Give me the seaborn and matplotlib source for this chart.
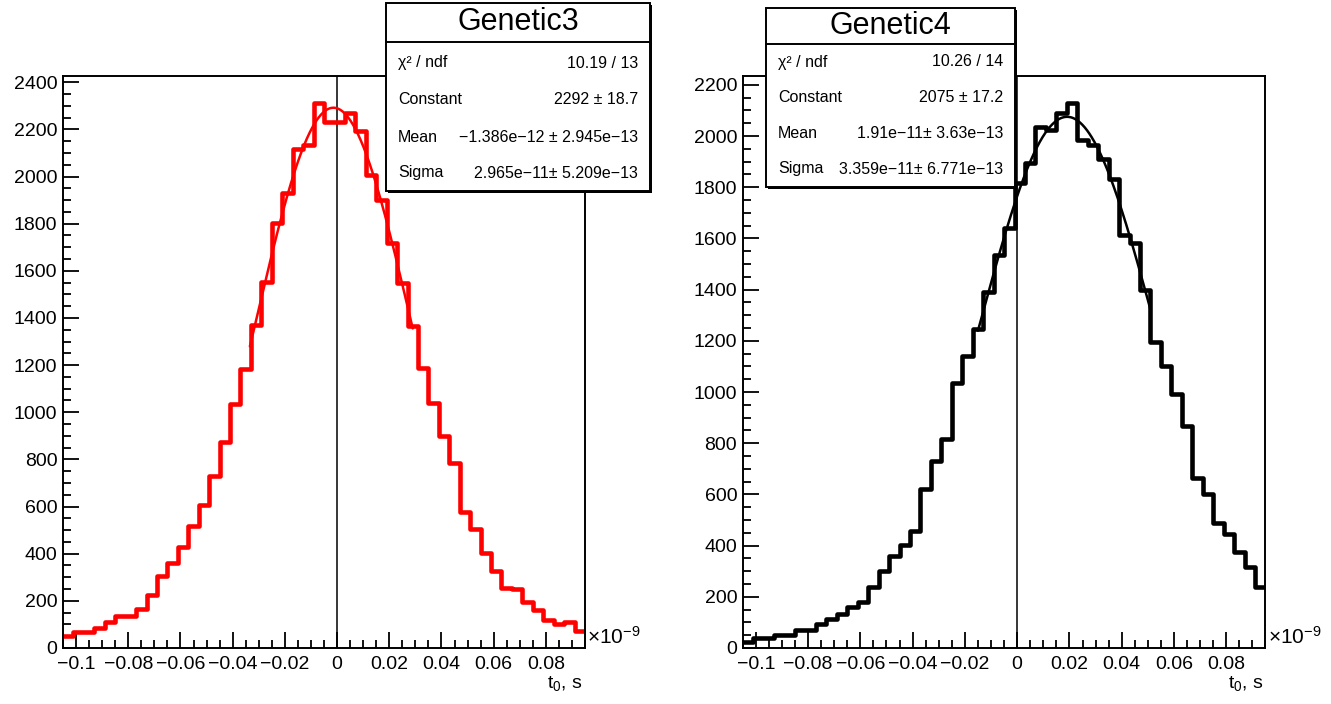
import numpy as np
import pandas as pd
import matplotlib
matplotlib.use("Agg")
import matplotlib.pyplot as plt
import seaborn as sns
from matplotlib.patches import Rectangle
from matplotlib.lines import Line2D
from matplotlib.ticker import MultipleLocator, FuncFormatter

# histogram binning, x in units of 1e-9 s
x_lo = -0.105
x_hi = 0.095
n_bins = 50

genetic3_counts = [51, 68, 68, 85, 110, 135, 135, 166, 225, 307,
                   361, 427, 516, 607, 730, 874, 1033, 1185, 1371, 1552,
                   1804, 1931, 2118, 2132, 2311, 2231, 2231, 2270, 2192, 2005,
                   1900, 1719, 1548, 1364, 1188, 1040, 899, 786, 578, 504,
                   402, 328, 253, 250, 194, 163, 117, 103, 110, 74]

genetic4_counts = [25, 40, 38, 51, 51, 71, 71, 94, 113, 133,
                   159, 178, 239, 302, 358, 403, 458, 623, 731, 818,
                   1034, 1140, 1247, 1390, 1537, 1641, 1815, 1894, 2035, 2025,
                   2089, 2128, 1985, 1966, 1910, 1832, 1615, 1582, 1400, 1195,
                   1100, 991, 867, 666, 601, 490, 445, 376, 315, 237]

# gaussian fit results (constant, mean [s], sigma [s]) and fit ranges
genetic3_fit = [2292, -1.386e-12, 2.965e-11]
genetic4_fit = [2075, 1.91e-11, 3.359e-11]
genetic3_range = [-0.0334, 0.0290]
genetic4_range = [-0.015, 0.051]

genetic3_stats = ["10.19 / 13", "2292 \u00b1 18.7",
                  "\u22121.386e\u221212 \u00b1 2.945e\u221213",
                  "2.965e\u221211\u00b1 5.209e\u221213"]
genetic4_stats = ["10.26 / 14", "2075 \u00b1 17.2",
                  "1.91e\u221211\u00b1 3.63e\u221213",
                  "3.359e\u221211\u00b1 6.771e\u221213"]
stat_names = ["\u03c7\u00b2 / ndf", "Constant", "Mean", "Sigma"]

sns.set_style("white")
plt.rcParams["font.family"] = ["Liberation Sans", "DejaVu Sans"]
plt.rcParams["text.color"] = "black"
plt.rcParams["mathtext.fontset"] = "custom"
plt.rcParams["mathtext.rm"] = "Liberation Sans"
plt.rcParams["mathtext.it"] = "Liberation Sans:italic"

W, H = 1331, 704
fig = plt.figure(figsize=(W / 100, H / 100), dpi=100)
fig.patch.set_facecolor("white")


def fx(px):
    return px / W


def fy(py):
    return 1 - py / H


def draw_panel(ax, counts, color, fit, frange):
    edges = np.linspace(x_lo, x_hi, n_bins + 1)
    centers = (edges[:-1] + edges[1:]) / 2
    df = pd.DataFrame({"t0": centers, "n": counts})
    sns.histplot(data=df, x="t0", weights="n", bins=n_bins,
                 binrange=(x_lo, x_hi), element="step",
                 fill=False, color=color, linewidth=3.3, ax=ax)
    c, m, s = fit[0], fit[1] * 1e9, fit[2] * 1e9
    xs = np.linspace(frange[0], frange[1], 300)
    ys = c * np.exp(-0.5 * ((xs - m) / s) ** 2)
    sns.lineplot(x=xs, y=ys, color=color, linewidth=1.8, ax=ax)
    ax.axvline(0, color="black", linewidth=1.1, zorder=1)

    ax.set_xlim(x_lo, x_hi)
    ax.set_ylim(0, max(counts) * 1.05)
    ax.set_xlabel("")
    ax.set_ylabel("")
    ax.xaxis.set_major_locator(MultipleLocator(0.02))
    ax.xaxis.set_minor_locator(MultipleLocator(0.005))
    ax.yaxis.set_major_locator(MultipleLocator(200))
    ax.yaxis.set_minor_locator(MultipleLocator(50))
    ax.xaxis.set_major_formatter(FuncFormatter(
        lambda v, p: ("%g" % (round(v, 4) + 0.0)).replace("-", "\u2212")))
    ax.yaxis.set_major_formatter(FuncFormatter(lambda v, p: "%d" % round(v)))
    ax.tick_params(which="both", direction="in", bottom=True, left=True,
                   top=False, right=False, width=1.3, labelsize=14,
                   colors="black")
    ax.tick_params(which="major", length=11.5)
    ax.tick_params(which="minor", length=5.5)
    ax.tick_params(axis="x", pad=6)
    ax.tick_params(axis="y", pad=4)
    for sp in ax.spines.values():
        sp.set_visible(True)
        sp.set_color("black")
        sp.set_linewidth(1.4)
    ax.text(1.004, 0.0, r"$\times\mathrm{10^{-9}}$", transform=ax.transAxes,
            ha="left", va="bottom", fontsize=15, color="black")
    ax.text(0.996, -0.045, r"$\mathrm{t_0}$, s", transform=ax.transAxes,
            ha="right", va="top", fontsize=14, color="black")


def stats_box(x0, y0, x1, y1, ysep, title, values, row_ys, pad):
    shadow = Rectangle((fx(x0 + 2), fy(y1 + 2)), fx(x1 - x0), (y1 - y0) / H,
                       transform=fig.transFigure, facecolor="black",
                       edgecolor="black", linewidth=0, zorder=5)
    box = Rectangle((fx(x0), fy(y1)), fx(x1 - x0), (y1 - y0) / H,
                    transform=fig.transFigure, facecolor="white",
                    edgecolor="black", linewidth=1.4, zorder=6)
    fig.patches.extend([shadow, box])
    fig.lines.append(Line2D([fx(x0), fx(x1)], [fy(ysep), fy(ysep)],
                            transform=fig.transFigure, color="black",
                            linewidth=1.4, zorder=7))
    fig.text(fx((x0 + x1) / 2), fy((y0 + ysep) / 2), title, ha="center",
             va="center", fontsize=22, color="black", zorder=8)
    for name, val, ry in zip(stat_names, values, row_ys):
        fig.text(fx(x0 + pad), fy(ry), name, ha="left", va="center",
                 fontsize=11.5, color="black", zorder=8)
        fig.text(fx(x1 - pad), fy(ry), val, ha="right", va="center",
                 fontsize=11.5, color="black", zorder=8)


ax1 = fig.add_axes([fx(63), fy(648), fx(522), 572 / H])
ax2 = fig.add_axes([fx(742.7), fy(648), fx(522.8), 572 / H])

draw_panel(ax1, genetic3_counts, "#ff0000", genetic3_fit, genetic3_range)
draw_panel(ax2, genetic4_counts, "black", genetic4_fit, genetic4_range)

stats_box(386, 3, 650, 191, 42, "Genetic3", genetic3_stats,
          [63, 100, 137, 173], 12)
stats_box(766, 8, 1015, 187, 44, "Genetic4", genetic4_stats,
          [62, 98, 134, 169], 12)

fig.savefig("out.png", dpi=100, facecolor="white")
